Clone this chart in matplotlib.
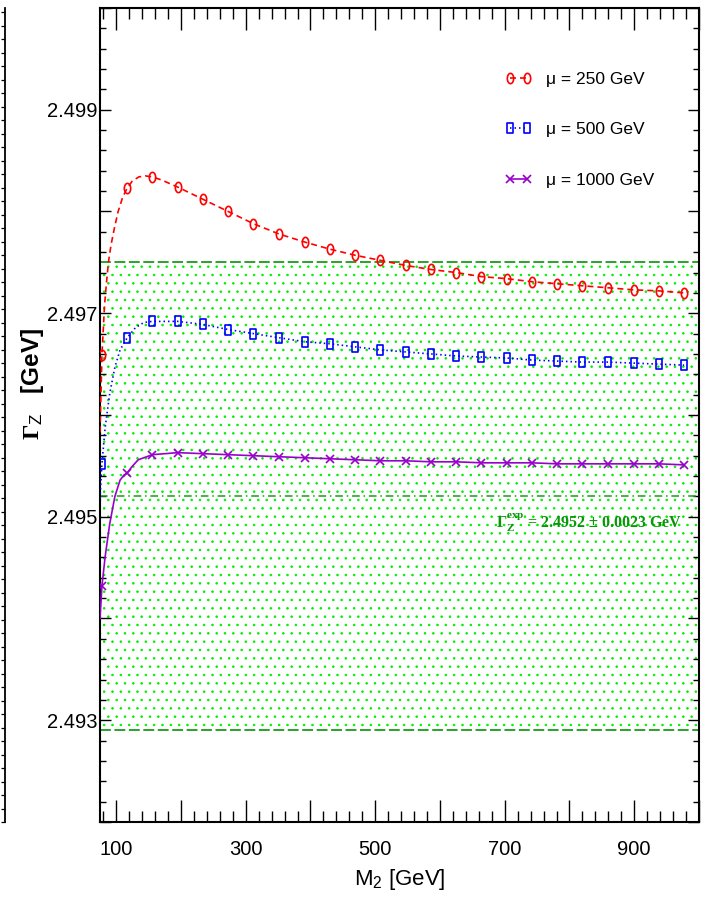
import matplotlib
matplotlib.use('Agg')
import numpy as np
import matplotlib.pyplot as plt
from matplotlib.lines import Line2D
from matplotlib.path import Path
from matplotlib.ticker import MultipleLocator

plt.rcParams['font.family'] = ['Liberation Sans', 'DejaVu Sans']
plt.rcParams['mathtext.fontset'] = 'custom'
plt.rcParams['mathtext.rm'] = 'Liberation Sans'
plt.rcParams['mathtext.sf'] = 'Liberation Sans'
plt.rcParams['mathtext.it'] = 'Liberation Sans:italic'
plt.rcParams['mathtext.bf'] = 'Liberation Serif:bold'
plt.rcParams['hatch.linewidth'] = 0.6

# ---------------- data ----------------
m2_mark = [78, 117, 156, 195, 234, 273, 312, 351, 391, 430, 469, 508,
           547, 586, 625, 664, 703, 742, 781, 820, 860, 899, 938, 977]

gz_mark_250 = [2.49659, 2.49823, 2.49834, 2.49824, 2.49812, 2.49800, 2.49788, 2.49778,
               2.49770, 2.49763, 2.49757, 2.49752, 2.49747, 2.49743, 2.49740, 2.49736,
               2.49734, 2.49731, 2.49729, 2.49727, 2.49725, 2.49723, 2.49722, 2.49720]
gz_mark_500 = [2.49552, 2.49676, 2.49692, 2.49692, 2.49689, 2.49684, 2.49680, 2.49676,
               2.49672, 2.49670, 2.49667, 2.49664, 2.49662, 2.49660, 2.49658, 2.49657,
               2.49656, 2.49654, 2.49653, 2.49652, 2.49652, 2.49651, 2.49650, 2.49649]
gz_mark_1000 = [2.49432, 2.49543, 2.49561, 2.49563, 2.49562, 2.49561, 2.49560, 2.49559,
                2.49558, 2.49557, 2.49556, 2.49555, 2.49555, 2.49554, 2.49554, 2.49553,
                2.49553, 2.49553, 2.49552, 2.49552, 2.49552, 2.49552, 2.49552, 2.49551]

# extra curve points (between markers, low-M2 rise)
m2_extra_250 = [75, 82, 85, 88, 92, 97, 103, 110, 125, 135, 145, 170]
gz_extra_250 = [2.49583, 2.49708, 2.49730, 2.49750, 2.49767, 2.49783, 2.49800, 2.49814,
                2.49830, 2.49834, 2.49835, 2.49831]
m2_extra_500 = [75, 83, 90, 98, 106, 130, 143]
gz_extra_500 = [2.49518, 2.49588, 2.49621, 2.49647, 2.49664, 2.49686, 2.49691]
m2_extra_1000 = [75, 83, 90, 98, 106, 112, 124, 134]
gz_extra_1000 = [2.49400, 2.49461, 2.49493, 2.49520, 2.49536, 2.49541, 2.49549, 2.49556]

labels = ['\u03bc = 250 GeV', '\u03bc = 500 GeV', '\u03bc = 1000 GeV']
colors = ['#ff0000', '#0000ff', '#9900cc']

gz_exp = 2.4952
gz_err = 0.0023

x_ticks = [100, 200, 300, 400, 500, 600, 700, 800, 900, 1000]
x_ticklabels = ['100', '', '300', '', '500', '', '700', '', '900', '']
y_ticks = [2.492, 2.493, 2.494, 2.495, 2.496, 2.497, 2.498, 2.499, 2.500]
y_ticklabels = ['', '2.493', '', '2.495', '', '2.497', '', '2.499', '']

# ---------------- marker shapes (narrow, as in the original) ----------------
_t = np.linspace(0, 2*np.pi, 41)
ellipse_marker = Path(np.column_stack([0.62*np.cos(_t), np.sin(_t)]), closed=True)
rect_marker = Path([(-0.55, -1), (0.55, -1), (0.55, 1), (-0.55, 1), (-0.55, -1)],
                   closed=True)

# ---------------- figure ----------------
fig = plt.figure(figsize=(7.09, 9.08), dpi=100)
L, R, B, T = 100/709, 699/709, 1-822/908, 1-8/908
ax = fig.add_axes([L, B, R-L, T-B])

# neighbouring panel edge (cropped)
axn = fig.add_axes([-0.3, B, 0.3 + 5/709, T-B])
axn.set_ylim(0, 60.3)
axn.set_xlim(0, 1)
axn.yaxis.set_major_locator(MultipleLocator(1))
axn.tick_params(axis='y', direction='in', left=False, right=True, labelleft=False,
                length=3, width=0.9)
axn.tick_params(axis='x', bottom=False, labelbottom=False)
for s in ['left', 'top', 'bottom']:
    axn.spines[s].set_visible(False)
axn.spines['right'].set_linewidth(1.3)
axn.patch.set_visible(False)

# experimental band
ax.axhspan(gz_exp - gz_err, gz_exp + gz_err, facecolor='none', edgecolor='#00ee00',
           hatch='..', linewidth=0, zorder=1)
band_col = '#1a9a1a'
ax.axhline(gz_exp + gz_err, color=band_col, lw=1.3, ls=(0, (6, 2)), zorder=2)
ax.axhline(gz_exp - gz_err, color=band_col, lw=1.3, ls=(0, (6, 2)), zorder=2)
ax.axhline(gz_exp, color=band_col, lw=1.1, ls=(0, (5, 2.5, 1, 2.5)), zorder=2)

series = [
    (m2_extra_250, gz_extra_250, gz_mark_250, (0, (3.6, 2.4)), ellipse_marker, 7.4),
    (m2_extra_500, gz_extra_500, gz_mark_500, (0, (0.9, 1.8)), rect_marker, 6.8),
    (m2_extra_1000, gz_extra_1000, gz_mark_1000, '-', 'x', 5.5),
]
handles = []
for (mx, gx, gm, ls, mk, ms), col, lab in zip(series, colors, labels):
    pts = sorted(list(zip(mx, gx)) + list(zip(m2_mark, gm)))
    xs = [p[0] for p in pts]
    ys = [p[1] for p in pts]
    ax.plot(xs, ys, color=col, lw=1.2, ls=ls, zorder=3)
    ax.plot(m2_mark, gm, ls='none', marker=mk, ms=ms, mfc='none', mec=col, mew=1.2,
            zorder=4)
    handles.append(Line2D([], [], color=col, lw=1.2, ls=ls, marker=mk, ms=ms,
                          mfc='none', mec=col, mew=1.2, label=lab))

ax.set_xlim(75, 1000)
ax.set_ylim(2.492, 2.500)

ax.set_xticks(x_ticks, x_ticklabels)
ax.set_yticks(y_ticks, y_ticklabels)
ax.xaxis.set_minor_locator(MultipleLocator(20))
ax.yaxis.set_minor_locator(MultipleLocator(0.0002))
ax.tick_params(which='both', direction='in', top=True, right=True, width=1.0)
ax.tick_params(axis='x', which='major', length=15.8, pad=13, labelsize=14.5)
ax.tick_params(axis='x', which='minor', length=7.9)
ax.tick_params(axis='y', which='major', length=7.9, pad=2, labelsize=14.5)
ax.tick_params(axis='y', which='minor', length=4.3)
for s in ax.spines.values():
    s.set_linewidth(1.5)

ax.set_xlabel('M$_{2}$ [GeV]', fontsize=16, labelpad=6)
fig.text(32/709, 1-384/908, r'$\mathbf{\Gamma}_{\mathsf{Z}}$   [GeV]', rotation=90,
         ha='center', va='center', fontsize=17.5, fontweight='bold',
         family=['Liberation Sans', 'DejaVu Sans'])

ax.text(687, 2.494887, r'$\mathbf{\Gamma_{Z}^{exp}}$ = 2.4952 $\pm$ 0.0023 GeV',
        color='#0a960a', fontsize=11.5, fontweight='bold',
        family=['Liberation Serif', 'DejaVu Serif'], ha='left', va='baseline', zorder=5)

leg = ax.legend(handles=handles, loc='upper left', bbox_to_anchor=(0.676, 0.922),
                frameon=False, fontsize=12.5, numpoints=2, handlelength=1.55,
                handletextpad=0.8, labelspacing=2.05, borderpad=0, borderaxespad=0)

fig.savefig('out.png', dpi=100)
